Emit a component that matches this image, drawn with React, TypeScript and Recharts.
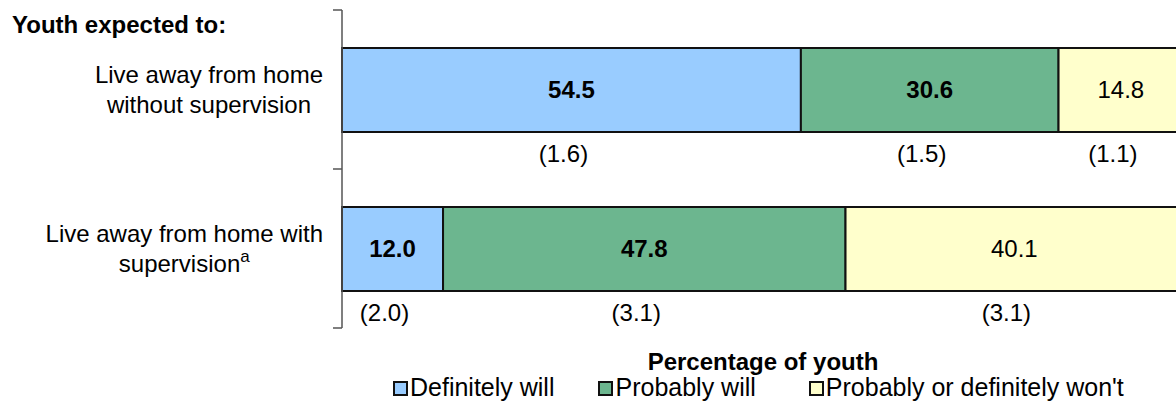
import React from 'react';
import { BarChart, Bar, XAxis, YAxis, LabelList } from 'recharts';

const CATEGORY_LINES = [
  ['Live away from home', 'without supervision'],
  ['Live away from home with', 'supervision'],
];
const FOOTNOTES = ['', 'a'];
const DEFINITELY = [54.5, 12.0];
const PROBABLY = [30.6, 47.8];
const WONT = [14.8, 40.1];
const DEFINITELY_SE = [1.6, 2.0];
const PROBABLY_SE = [1.5, 3.1];
const WONT_SE = [1.1, 3.1];

const SERIES = [
  { key: 'definitely', se: 'definitelySE', name: 'Definitely will', color: '#99CCFF', bold: true },
  { key: 'probably', se: 'probablySE', name: 'Probably will', color: '#6CB68F', bold: true },
  { key: 'wont', se: 'wontSE', name: "Probably or definitely won't", color: '#FFFFCC', bold: false },
];

const data = CATEGORY_LINES.map((lines, i) => ({
  name: lines.join(' '),
  definitely: DEFINITELY[i],
  probably: PROBABLY[i],
  wont: WONT[i],
  definitelySE: DEFINITELY_SE[i],
  probablySE: PROBABLY_SE[i],
  wontSE: WONT_SE[i],
}));

const FONT = '"Liberation Sans", Arial, sans-serif';
const FS = 24;

let ctx: CanvasRenderingContext2D | null = null;
function textWidth(s: string) {
  if (!ctx) ctx = document.createElement('canvas').getContext('2d');
  if (!ctx) return s.length * FS * 0.5;
  ctx.font = `${FS}px ${FONT}`;
  return ctx.measureText(s).width;
}

const CategoryTick = (props: any) => {
  const { x, y, payload, index, visibleTicksCount } = props;
  const lines = CATEGORY_LINES[index] || [];
  const half = payload.offset ?? 79.5;
  const maxW = Math.max(...lines.map(textWidth));
  const cx = x - 10 - maxW / 2;
  const lh = 30;
  const top = y - ((lines.length - 1) * lh) / 2 + 8;
  const last = index === (visibleTicksCount ?? CATEGORY_LINES.length) - 1;
  return (
    <g>
      <line x1={x} x2={x + 9} y1={y - half} y2={y - half} stroke="#555" strokeWidth={1.5} />
      {last && <line x1={x} x2={x + 9} y1={y + half} y2={y + half} stroke="#555" strokeWidth={1.5} />}
      <text textAnchor="middle" fontFamily={FONT} fontSize={FS} fill="#000">
        {lines.map((l, i) => (
          <tspan key={i} x={cx} y={top + i * lh}>
            {l}
            {i === lines.length - 1 && FOOTNOTES[index] ? (
              <tspan fontSize={17} dy={-10}>{FOOTNOTES[index]}</tspan>
            ) : null}
          </tspan>
        ))}
      </text>
    </g>
  );
};

const valueLabel = (bold: boolean) => (p: any) => {
  const { x, y, width, height, value } = p;
  return (
    <text x={x + width / 2} y={y + height / 2 + 8} textAnchor="middle" fontFamily={FONT}
      fontSize={FS} fontWeight={bold ? 'bold' : 'normal'} fill="#000">
      {Number(value).toFixed(1)}
    </text>
  );
};

const seLabel = (p: any) => {
  const { x, y, width, height, value } = p;
  return (
    <text x={x + width / 2 - 8} y={y + height + 30} textAnchor="middle" fontFamily={FONT}
      fontSize={FS} fill="#000">
      ({Number(value).toFixed(1)})
    </text>
  );
};

const LEGEND_GAPS = [44, 53, 0];

const LegendBox = () => (
  <div style={{ position: 'absolute', left: 393, top: 373, display: 'flex', fontFamily: FONT, fontSize: 25, color: '#000' }}>
    {SERIES.map((s, i) => (
      <div key={s.key} style={{ display: 'flex', alignItems: 'center', marginRight: LEGEND_GAPS[i] }}>
        <span style={{ width: 11, height: 11, background: s.color, border: '2px solid #111', marginRight: 2, marginTop: 2 }} />
        <span>{s.name}</span>
      </div>
    ))}
  </div>
);

export default function App() {
  return (
    <div style={{ position: 'absolute', left: 0, top: 0, width: 1176, height: 416, overflow: 'hidden', background: '#fff' }}>
      <div style={{ position: 'absolute', left: 12, top: 11, fontFamily: FONT, fontSize: FS, fontWeight: 'bold' }}>
        Youth expected to:
      </div>
      <div style={{ position: 'absolute', left: 342, width: 842, top: 348, textAlign: 'center', fontFamily: FONT, fontSize: FS, fontWeight: 'bold' }}>
        Percentage of youth
      </div>
      <LegendBox />
      <BarChart width={1200} height={416} data={data} layout="vertical"
        margin={{ top: 10, right: 16, left: 0, bottom: 88 }}>
        <XAxis type="number" domain={[0, 100]} hide />
        <YAxis type="category" dataKey="name" width={342} axisLine={{ stroke: '#555', strokeWidth: 1.5 }}
          tickLine={false} tickSize={9} tickMargin={0} tick={<CategoryTick />} interval={0} />
        {SERIES.map(s => (
          <Bar key={s.key} dataKey={s.key} name={s.name} stackId="a" fill={s.color} stroke="#111"
            strokeWidth={2} barSize={84} isAnimationActive={false}>
            <LabelList dataKey={s.key} content={valueLabel(s.bold)} />
            <LabelList dataKey={s.se} content={seLabel} />
          </Bar>
        ))}
      </BarChart>
    </div>
  );
}
